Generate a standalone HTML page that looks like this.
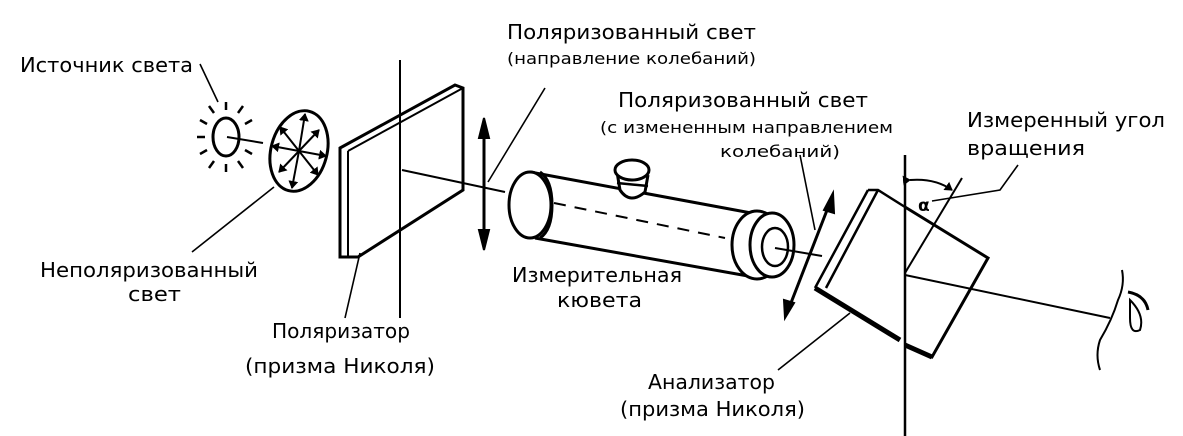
<!DOCTYPE html>
<html><head><meta charset="utf-8"><style>
html,body{margin:0;padding:0;background:#fff}
svg{display:block}
text{font-family:"DejaVu Sans","Liberation Sans",sans-serif;fill:#000}
.b{font-size:20px}.s{font-size:16px}
</style></head><body>
<svg width="1183" height="436" viewBox="0 0 1183 436" xmlns="http://www.w3.org/2000/svg">
<defs><marker id="ah" markerWidth="8" markerHeight="10" refX="7" refY="5" orient="auto" markerUnits="userSpaceOnUse"><path d="M0,0 L8,5 L0,10 z"/></marker></defs>
<g fill="none" stroke="#000" stroke-width="2">
<!-- sun -->
<ellipse cx="226" cy="137" rx="13" ry="19" stroke-width="3"/>
<g stroke-width="2.5">
<line x1="226" y1="110" x2="226" y2="102"/><line x1="214" y1="113" x2="209" y2="106"/><line x1="238" y1="113" x2="243" y2="106"/>
<line x1="207" y1="124" x2="200" y2="120"/><line x1="245" y1="124" x2="252" y2="120"/><line x1="205" y1="137" x2="197" y2="137"/>
<line x1="207" y1="150" x2="200" y2="154"/><line x1="245" y1="150" x2="252" y2="154"/><line x1="214" y1="161" x2="209" y2="168"/>
<line x1="226" y1="164" x2="226" y2="172"/><line x1="238" y1="161" x2="243" y2="168"/>
</g>
<line x1="227" y1="137" x2="263" y2="143"/>
<!-- disk -->
<ellipse cx="299" cy="151" rx="28" ry="41" transform="rotate(15 299 151)" stroke-width="3"/>
<g stroke-width="2" marker-end="url(#ah)">
<line x1="299" y1="151" x2="305" y2="114"/><line x1="299" y1="151" x2="292" y2="188"/>
<line x1="299" y1="151" x2="272" y2="146"/><line x1="299" y1="151" x2="326" y2="156"/>
<line x1="299" y1="151" x2="280" y2="127"/><line x1="299" y1="151" x2="318" y2="175"/>
<line x1="299" y1="151" x2="319" y2="130"/><line x1="299" y1="151" x2="279" y2="172"/>
</g>
<!-- polarizer plate -->
<path d="M340,148 L455,85 L463,88 L463,190 L358,257 L340,257 Z" fill="#fff" stroke-width="3"/>
<path d="M348,151 L348,257 M348,151 L463,88" stroke-width="2"/>
<line x1="400" y1="60" x2="400" y2="318"/>
<line x1="402" y1="170" x2="505" y2="192"/>
<!-- vertical arrow -->
<line x1="484" y1="135" x2="484" y2="237" stroke-width="3"/>
<path d="M484,118 L479,138 L489,138Z M484,250 L479,230 L489,230Z" fill="#000"/>
<!-- cuvette -->
<path d="M530,172 L762,215" stroke-width="3"/>
<path d="M535,238 L748,276" stroke-width="3"/>
<ellipse cx="530" cy="205" rx="21" ry="33" fill="#fff" stroke-width="3"/>
<path d="M540,172 Q552,180 552,205 Q552,230 540,238" stroke-width="3"/>
<path d="M554,203 L725,238" stroke-dasharray="12,9"/>
<ellipse cx="757" cy="245" rx="25" ry="34" fill="#fff" stroke-width="3"/>
<ellipse cx="772" cy="245" rx="22" ry="32" fill="#fff" stroke-width="3"/>
<ellipse cx="775" cy="247" rx="13" ry="19" stroke-width="2.5"/>
<line x1="775" y1="248" x2="822" y2="256"/>
<!-- knob -->
<path d="M617,172 L620,190 Q630,205 645,192 L648,175" fill="#fff" stroke-width="3"/>
<ellipse cx="632" cy="170" rx="17" ry="10" fill="#fff" stroke-width="3"/>
<line x1="617" y1="183" x2="648" y2="186" stroke-width="2.5"/>
<!-- diagonal arrow -->
<line x1="829" y1="205" x2="789" y2="308" stroke-width="3"/>
<path d="M833,193 L824,210 L834,213Z M785,318 L784,300 L794,303Z" fill="#000"/>
<!-- analyzer -->
<path d="M905,207 L988,258 L932,357 L905,345" stroke-width="3" fill="none"/>
<path d="M868,190 L878,190 L905,207 M815,288 L868,190 M826,288 L878,190" stroke-width="2.5"/>
<path d="M815,288 L900,340" stroke-width="5"/>
<path d="M905,345 L932,357" stroke-width="5"/>
<line x1="905" y1="155" x2="905" y2="436" stroke-width="2.5"/>
<line x1="905" y1="273" x2="962" y2="178"/>
<line x1="905" y1="275" x2="1110" y2="318"/>
<path d="M910,180 Q935,178 952,190" marker-start="url(#ah)" marker-end="url(#ah)"/>
<!-- eye -->
<path d="M1122,270 Q1125,285 1118,300 Q1112,320 1100,340 Q1095,355 1100,370" stroke-width="2"/>
<path d="M1128,292 Q1145,295 1148,310" stroke-width="3"/>
<path d="M1130,300 Q1145,315 1140,330 Q1130,335 1130,318 Z" stroke-width="2"/>
<!-- leaders -->
<g stroke-width="1.6">
<line x1="200" y1="64" x2="218" y2="102"/>
<line x1="274" y1="187" x2="192" y2="252"/>
<line x1="360" y1="253" x2="345" y2="318"/>
<line x1="545" y1="88" x2="488" y2="182"/>
<line x1="800" y1="155" x2="815" y2="230"/>
<line x1="850" y1="313" x2="778" y2="370"/>
<polyline points="1018,165 1000,190 932,201"/>
</g>
</g>
<text x="918" y="211" font-size="17" font-family="Liberation Serif,serif" font-weight="bold">α</text>
<g>
<text class="b" x="20" y="72" textLength="173" lengthAdjust="spacingAndGlyphs">Источник света</text>
<text class="b" x="40" y="277" textLength="218" lengthAdjust="spacingAndGlyphs">Неполяризованный</text>
<text class="b" x="128" y="301" textLength="53" lengthAdjust="spacingAndGlyphs">свет</text>
<text class="b" x="272" y="338" textLength="138" lengthAdjust="spacingAndGlyphs">Поляризатор</text>
<text class="b" x="245" y="373" textLength="190" lengthAdjust="spacingAndGlyphs">(призма Николя)</text>
<text class="b" x="507" y="39" textLength="249" lengthAdjust="spacingAndGlyphs">Поляризованный свет</text>
<text class="s" x="507" y="64" textLength="249" lengthAdjust="spacingAndGlyphs">(направление колебаний)</text>
<text class="b" x="618" y="107" textLength="250" lengthAdjust="spacingAndGlyphs">Поляризованный свет</text>
<text class="s" x="600" y="133" textLength="293" lengthAdjust="spacingAndGlyphs">(с измененным направлением</text>
<text class="s" x="720" y="157" textLength="120" lengthAdjust="spacingAndGlyphs">колебаний)</text>
<text class="b" x="967" y="127" textLength="198" lengthAdjust="spacingAndGlyphs">Измеренный угол</text>
<text class="b" x="967" y="155" textLength="118" lengthAdjust="spacingAndGlyphs">вращения</text>
<text class="b" x="512" y="282" textLength="170" lengthAdjust="spacingAndGlyphs">Измерительная</text>
<text class="b" x="557" y="307" textLength="85" lengthAdjust="spacingAndGlyphs">кювета</text>
<text class="b" x="648" y="389" textLength="127" lengthAdjust="spacingAndGlyphs">Анализатор</text>
<text class="b" x="620" y="416" textLength="185" lengthAdjust="spacingAndGlyphs">(призма Николя)</text>
</g>
</svg>
</body></html>
